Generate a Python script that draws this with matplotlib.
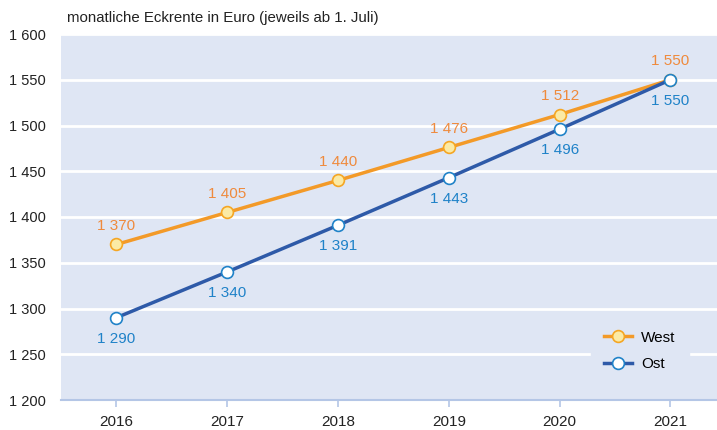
import matplotlib.pyplot as plt
from matplotlib.ticker import FuncFormatter

years = [2016, 2017, 2018, 2019, 2020, 2021]
west = [1370, 1405, 1440, 1476, 1512, 1550]
ost = [1290, 1340, 1391, 1443, 1496, 1550]

bg = '#dfe6f4'
c_west = '#f39a28'
c_west_txt = '#ef8a3c'
c_ost = '#2e5aa8'
c_ost_txt = '#1f82c8'

plt.rcParams['font.family'] = 'Liberation Sans'

fig = plt.figure(figsize=(7.17, 4.30), dpi=100)
ax = fig.add_axes([61/717, 30/430, 656/717, 366/430])
ax.set_facecolor(bg)
for s in ['top', 'right', 'left']:
    ax.spines[s].set_visible(False)
ax.spines['bottom'].set_color('#b4c6e6')
ax.spines['bottom'].set_linewidth(1.5)

ax.set_ylim(1200, 1600)
ax.set_xlim(2015.5, 2021.42)
ax.set_yticks(range(1200, 1601, 50))
ax.yaxis.set_major_formatter(FuncFormatter(lambda v, p: '{:,.0f}'.format(v).replace(',', ' ')))
ax.set_xticks(years)
ax.tick_params(axis='y', length=0, labelsize=10.5, pad=11, colors='#222222')
ax.tick_params(axis='x', length=5, width=1.2, color='#b4c6e6', labelsize=11, pad=6, labelcolor='#222222')
ax.grid(axis='y', color='white', linewidth=2)
ax.set_axisbelow(True)

ax.plot(years, west, '-o', color=c_west, lw=2.5, ms=8.5, mfc='#fbeaa5', mec='#f5a623', mew=1.2, label='West', zorder=3)
ax.plot(years, ost, '-o', color=c_ost, lw=2.5, ms=8.5, mfc='white', mec=c_ost_txt, mew=1.2, label='Ost', zorder=3)

fmt = lambda v: '{:,}'.format(v).replace(',', ' ')
for x, w, o in zip(years, west, ost):
    ax.annotate(fmt(w), (x, w), xytext=(0, 8.5), textcoords='offset points', ha='center', va='bottom', color=c_west_txt, fontsize=11)
    ax.annotate(fmt(o), (x, o), xytext=(0, -10), textcoords='offset points', ha='center', va='top', color=c_ost_txt, fontsize=11)

leg = ax.legend(loc='center', bbox_to_anchor=((640 - 61)/656, 1 - (351-34)/366), frameon=True, fontsize=11,
                handlelength=1.8, handletextpad=0.6, borderpad=0.9, labelspacing=0.85)
leg.get_frame().set_facecolor(bg)
leg.get_frame().set_edgecolor(bg)
leg.get_frame().set_alpha(1)
leg.get_frame().set_boxstyle('square', pad=0)

fig.text(67/717, 1 - 18/430, 'monatliche Eckrente in Euro (jeweils ab 1. Juli)', fontsize=10.8, va='center', ha='left', color='#222222')

plt.savefig('out.png', dpi=100)
